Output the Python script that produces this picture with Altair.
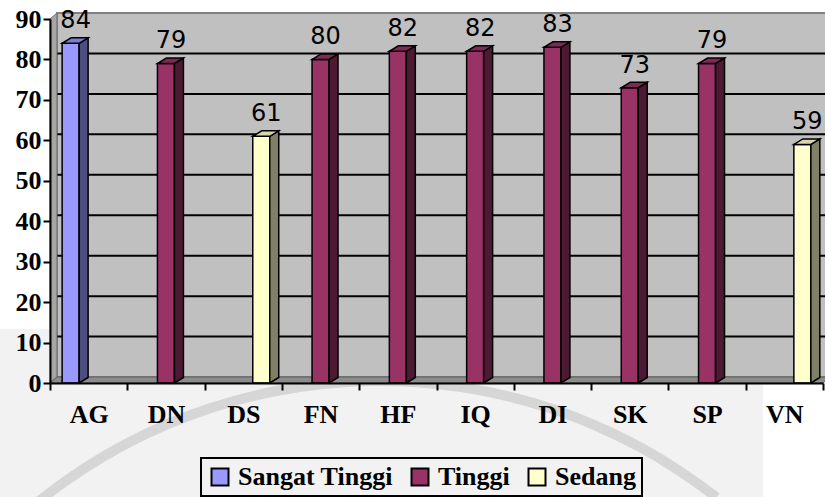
import altair as alt
import pandas as pd

# ---- data -------------------------------------------------------------
categories = ["AG", "DN", "DS", "FN", "HF", "IQ", "DI", "SK", "SP", "VN"]
scores = [84, 79, 61, 80, 82, 82, 83, 73, 79, 59]
levels = ["Sangat Tinggi", "Tinggi", "Sedang", "Tinggi", "Tinggi",
          "Tinggi", "Tinggi", "Tinggi", "Tinggi", "Sedang"]
series = ["Sangat Tinggi", "Tinggi", "Sedang"]
y_ticks = [0, 10, 20, 30, 40, 50, 60, 70, 80, 90]

# ---- styling / 3-D geometry (in data units) ----------------------------
front_colors = ["#9999FF", "#993366", "#FFFFCC"]
side_colors = ["#4D4D80", "#4D1A33", "#808066"]
top_colors = ["#7D7DD6", "#7E2A55", "#D6D6AA"]

SLOT = 0.233      # distance between series slots inside a category
FACE = 0.22       # width of a column's front face
DX, DY = 0.116, 1.36   # column depth
WX, WY = 0.09, 1.48    # wall depth
YMAX = y_ticks[-1]
NCAT = len(categories)

W, H = 773, 364
serif = "Liberation Serif"

front_rows, side_rows, top_rows = [], [], []
for i, (cat, val, lev) in enumerate(zip(categories, scores, levels)):
    s = series.index(lev)
    x0 = i + 0.5 + (s - 1) * SLOT - FACE / 2
    x1 = x0 + FACE
    front_rows.append(dict(cat=cat, level=lev, value=val, x0=x0, x1=x1,
                           xc=(x0 + x1) / 2))
    side_rows += [dict(cat=cat, level=lev, x=x1, y=0, y2=val),
                  dict(cat=cat, level=lev, x=x1 + DX, y=DY, y2=val + DY)]
    top_rows += [dict(cat=cat, level=lev, x=x0, y=val, y2=val),
                 dict(cat=cat, level=lev, x=x0 + DX, y=val, y2=val + DY),
                 dict(cat=cat, level=lev, x=x1, y=val, y2=val + DY),
                 dict(cat=cat, level=lev, x=x1 + DX, y=val + DY, y2=val + DY)]

front = pd.DataFrame(front_rows)
side = pd.DataFrame(side_rows)
top = pd.DataFrame(top_rows)

xscale = alt.Scale(domain=[0, NCAT], nice=False, zero=False)
yscale = alt.Scale(domain=[0, YMAX], nice=False)

# category names for the x axis, looked up by position
cat_lookup = "[" + ",".join("'%s'" % c for c in categories) + "]"

# label font given per label so that it is written into the label encoding
label_font = {"condition": {"test": "datum.value >= 0", "value": serif},
              "value": serif}
label_weight = {"condition": {"test": "datum.value >= 0", "value": "bold"},
                "value": "bold"}

axis_style = dict(
    title=None, grid=False, domainColor="black", domainWidth=2,
    tickColor="black", tickWidth=2, tickSize=7,
    labelFont=label_font, labelFontSize=26, labelFontWeight=label_weight,
    labelColor="black", labelFlush=False, labelOverlap=False,
    labelBound=False, zindex=1)

x_axis = alt.Axis(
    values=[k / 2 for k in range(2 * NCAT + 1)],
    labelExpr="(datum.value % 1) == 0 ? '' : " + cat_lookup + "[floor(datum.value)]",
    tickOpacity={"condition": {"test": "(datum.value % 1) == 0", "value": 1}, "value": 0},
    labelPadding=11, **axis_style)

y_axis = alt.Axis(
    values=y_ticks, labelExpr="'' + datum.value",
    tickOpacity={"condition": {"test": "datum.value >= 0", "value": 1}, "value": 1},
    labelPadding=2, **axis_style)

def X(field):
    return alt.X(field, scale=xscale, axis=x_axis)

def Y(field):
    return alt.Y(field, scale=yscale, axis=y_axis)

# ---- page, faint seal and walls ------------------------------------------
page = alt.Chart(pd.DataFrame({"k": [0]})).mark_rect(color="#F2F2F2").encode(
    x=alt.value(-50), x2=alt.value(713), y=alt.value(310), y2=alt.value(480))

seal = alt.Chart(pd.DataFrame({"k": [0]})).mark_arc(
    radius=549, radius2=539, theta=5.58, theta2=6.95, color="#D6D6D6").encode(
    x=alt.value(330), y=alt.value(906))

back_wall = alt.Chart(pd.DataFrame({"x": [WX], "x2": [NCAT + WX + 1],
                                    "y": [WY], "y2": [YMAX + WY]})).mark_rect(
    fill="#C0C0C0", stroke="#808080", strokeWidth=2).encode(
    x=X("x:Q"), x2="x2:Q", y=Y("y:Q"), y2="y2:Q")

grid = alt.Chart(pd.DataFrame({"g": [t + WY for t in y_ticks[1:-1]],
                               "a": WX, "b": NCAT + WX + 1})).mark_rule(
    color="black", strokeWidth=2).encode(
    x=X("a:Q"), x2="b:Q", y=Y("g:Q"))

left_wall = alt.Chart(pd.DataFrame({"x": [0, WX], "y": [0, WY],
                                    "y2": [YMAX, YMAX + WY]})).mark_area(
    fill="#A6A6A6", stroke="#707070", strokeWidth=1, orient="vertical").encode(
    x=X("x:Q"), y=Y("y:Q"), y2="y2:Q")

floor = alt.Chart(pd.DataFrame({"x": [0, WX, NCAT, NCAT + WX],
                                "y": [0, 0, 0, WY],
                                "y2": [0, WY, WY, WY]})).mark_area(
    fill="#8C8C8C", stroke="#606060", strokeWidth=1, orient="vertical").encode(
    x=X("x:Q"), y=Y("y:Q"), y2="y2:Q")

# ---- columns ------------------------------------------------------------
legend = alt.Legend(
    title=None, orient="none", legendX=151, legendY=439, direction="horizontal",
    symbolType="square", symbolSize=289, symbolStrokeColor="black",
    symbolStrokeWidth=2, symbolOpacity=1, labelFont=serif, labelFontSize=26,
    labelFontWeight="bold", labelColor="black", labelOffset=5,
    columnPadding=14, padding=6, strokeColor="black")

fronts = alt.Chart(front).mark_rect(stroke="black", strokeWidth=1.5).encode(
    x=X("x0:Q"), x2="x1:Q",
    y=Y("value:Q"), y2=alt.datum(0),
    color=alt.Color("level:N", scale=alt.Scale(domain=series, range=front_colors),
                    legend=legend))

sides = alt.Chart(side).mark_area(stroke="black", strokeWidth=1.5,
                                  orient="vertical").encode(
    x=X("x:Q"), y=Y("y:Q"), y2="y2:Q", detail="cat:N",
    fill=alt.Fill("level:N", scale=alt.Scale(domain=series, range=side_colors),
                  legend=None))

tops = alt.Chart(top).mark_area(stroke="black", strokeWidth=1.5,
                                orient="vertical").encode(
    x=X("x:Q"), y=Y("y:Q"), y2="y2:Q", detail="cat:N",
    fill=alt.Fill("level:N", scale=alt.Scale(domain=series, range=top_colors),
                  legend=None))

labels = alt.Chart(front).mark_text(
    font="DejaVu Sans", fontSize=24, color="black", dx=5, dy=-15,
    baseline="alphabetic", align="center").encode(
    x=X("xc:Q"), y=Y("value:Q"), text="value:Q")

chart = alt.layer(
    page, seal, back_wall, grid, left_wall, floor, fronts, sides, tops, labels
).resolve_scale(color="independent", fill="independent").properties(
    width=W, height=H,
    autosize=alt.AutoSizeParams(type="none"),
    padding={"left": 50, "top": 19, "right": 2, "bottom": 114},
    background="white",
).configure_view(stroke=None).configure_legend(strokeWidth=2)

chart.save("out.html", embed_options={"renderer": "svg", "actions": False})
